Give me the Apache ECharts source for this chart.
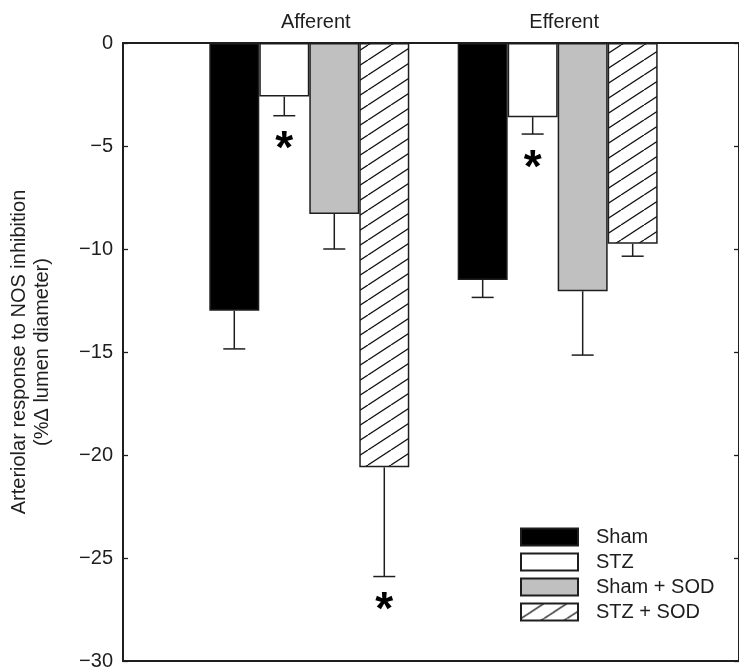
<!DOCTYPE html>
<html>
<head>
<meta charset="utf-8">
<script src="https://cdn.jsdelivr.net/npm/echarts@6/dist/echarts.min.js"></script>
<style>
html,body{margin:0;padding:0;background:#fff;}
#chart{width:739px;height:671px;}
</style>
</head>
<body>
<div id="chart"></div>
<script>
// ---- data ----
var groups = ['Afferent', 'Efferent'];
var groupPos = [1, 2];
var seriesNames = ['Sham', 'STZ', 'Sham + SOD', 'STZ + SOD'];
var sham = [-13.0, -11.5];
var shamErr = [1.85, 0.85];
var stz = [-2.6, -3.6];
var stzErr = [0.93, 0.82];
var shamSod = [-8.3, -12.05];
var shamSodErr = [1.7, 3.1];
var stzSod = [-20.6, -9.75];
var stzSodErr = [5.3, 0.6];
var sigSham = [0, 0];
var sigStz = [1, 1];
var sigShamSod = [0, 0];
var sigStzSod = [1, 0];
var yTicks = [0, -5, -10, -15, -20, -25, -30];

// ---- styles ----
var FONT = '"Liberation Sans", Arial, Helvetica, sans-serif';
var INK = '#1e1e1e';
var BAR_W = 50;
var FS = 20;

var hatch = document.createElement('canvas');
hatch.width = 23; hatch.height = 15;
(function () {
  var c = hatch.getContext('2d');
  c.fillStyle = '#fff';
  c.fillRect(0, 0, 23, 15);
  c.strokeStyle = '#111';
  c.lineWidth = 1.3;
  [[-23, 0], [0, 0], [23, 0]].forEach(function (o) {
    c.beginPath();
    c.moveTo(o[0], 15);
    c.lineTo(o[0] + 23, 0);
    c.stroke();
  });
})();

var values = [sham, stz, shamSod, stzSod];
var errs = [shamErr, stzErr, shamSodErr, stzSodErr];
var sigs = [sigSham, sigStz, sigShamSod, sigStzSod];
var fills = ['#000000', '#ffffff', '#c0c0c0', { image: hatch, repeat: 'repeat' }];

var series = [];
values.forEach(function (vals, si) {
  series.push({
    name: seriesNames[si],
    type: 'bar',
    barWidth: BAR_W,
    barGap: '0%',
    data: vals.map(function (v, gi) { return [groupPos[gi], v]; }),
    itemStyle: { color: fills[si], borderColor: INK, borderWidth: 1.5 },
    emphasis: { disabled: true },
    z: 2
  });
});

var errData = [];
values.forEach(function (vals, si) {
  vals.forEach(function (v, gi) {
    errData.push([groupPos[gi], v, errs[si][gi], si, sigs[si][gi]]);
  });
});

series.push({
  type: 'custom',
  name: 'err',
  data: errData,
  z: 5,
  silent: true,
  renderItem: function (params, api) {
    var x = api.value(0), v = api.value(1), e = api.value(2), si = api.value(3), sig = api.value(4);
    var p1 = api.coord([x, v]);
    var p2 = api.coord([x, v - e]);
    var cx = p1[0] + (si - 1.5) * BAR_W;
    var children = [
      { type: 'line', shape: { x1: cx, y1: p1[1], x2: cx, y2: p2[1] }, style: { stroke: INK, lineWidth: 1.5 } },
      { type: 'line', shape: { x1: cx - 11, y1: p2[1], x2: cx + 11, y2: p2[1] }, style: { stroke: INK, lineWidth: 1.5 } }
    ];
    if (sig) {
      children.push({
        type: 'text',
        style: { text: '*', x: cx, y: p2[1] + 35, align: 'center', verticalAlign: 'middle',
                 font: 'bold 46px ' + FONT, fill: '#000' }
      });
    }
    return { type: 'group', children: children };
  }
});

var option = {
  backgroundColor: '#fff',
  animation: false,
  grid: { left: 123, right: -1, top: 43, bottom: 8, show: true, borderColor: INK, borderWidth: 2, backgroundColor: 'transparent' },
  legend: {
    data: seriesNames,
    orient: 'vertical',
    left: 520,
    top: 527,
    padding: 0,
    icon: 'rect',
    itemWidth: 57,
    itemHeight: 17,
    itemGap: 5,
    selectedMode: false,
    textStyle: { fontFamily: FONT, fontSize: FS, color: INK, lineHeight: 17, padding: [0, 0, 0, 13] }
  },
  xAxis: [{
    type: 'value',
    position: 'top',
    min: 0.25,
    max: 2.73,
    splitLine: { show: false },
    axisLine: { show: false },
    axisTick: { show: false },
    axisLabel: {
      customValues: groupPos,
      formatter: function (v) { var i = groupPos.indexOf(v); return i >= 0 ? groups[i] : ''; },
      fontFamily: FONT, fontSize: FS, color: INK, margin: 11, padding: [0, 0, 0, 13]
    }
  }],
  yAxis: [{
    type: 'value',
    min: -30, max: 0, interval: 5,
    position: 'left',
    splitLine: { show: false },
    axisLine: { show: false },
    axisTick: { show: true, inside: true, length: 5, lineStyle: { color: INK, width: 1.3 } },
    axisLabel: {
      fontFamily: FONT, fontSize: FS, color: INK, margin: 10,
      formatter: function (v) { return v < 0 ? '\u2212' + Math.abs(v) : String(v); }
    },
    name: 'Arteriolar response to NOS inhibition\n(%\u0394 lumen diameter)',
    nameLocation: 'middle',
    nameGap: 69,
    nameTextStyle: { fontFamily: FONT, fontSize: FS, color: INK, lineHeight: 23 }
  }, {
    type: 'value',
    min: -30, max: 0, interval: 5,
    position: 'right',
    splitLine: { show: false },
    axisLine: { show: false },
    axisTick: { show: true, inside: true, length: 5, lineStyle: { color: INK, width: 1.3 } },
    axisLabel: { show: false }
  }],
  series: series
};

var chart = echarts.init(document.getElementById('chart'), null, { renderer: 'canvas' });
chart.setOption(option);
</script>
</body>
</html>
